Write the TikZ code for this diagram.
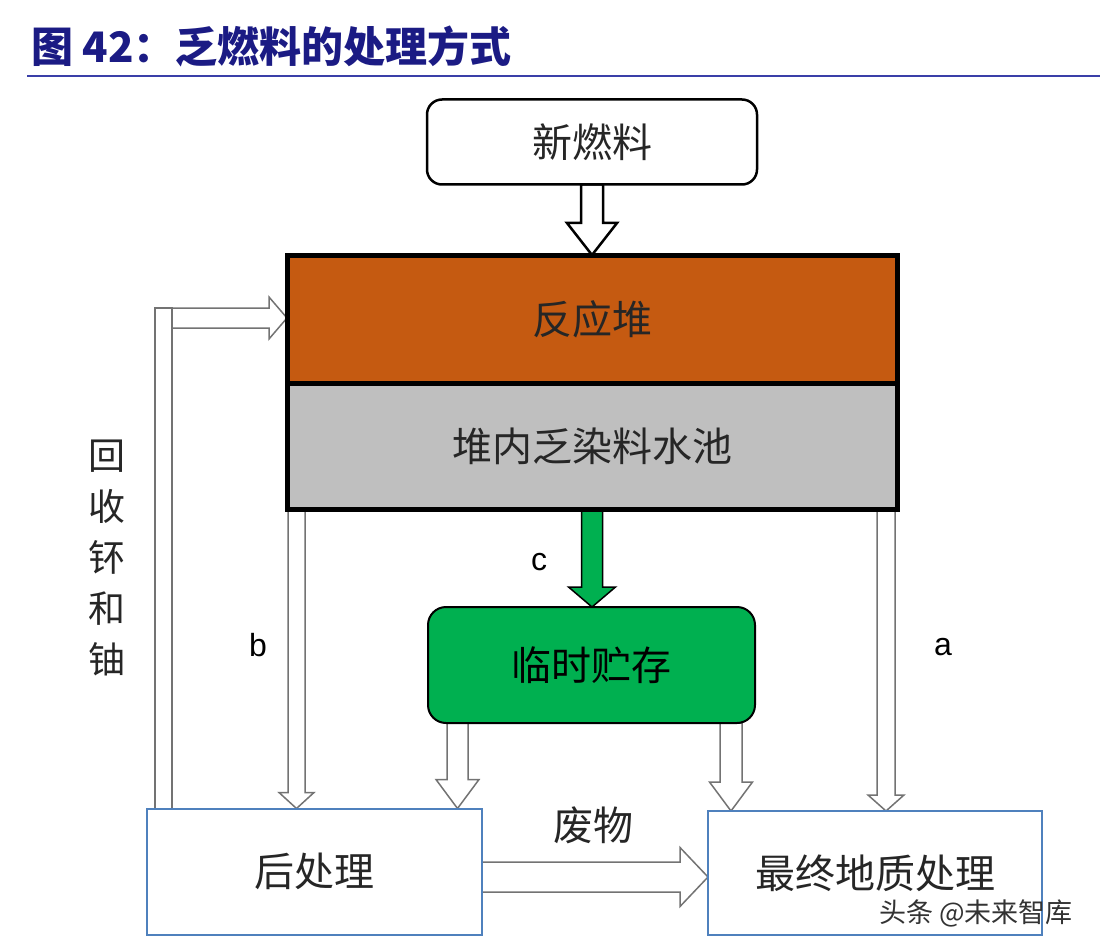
\documentclass[tikz,border=0pt]{standalone}
\usepackage{fontspec}
\newfontfamily\cjk{Noto Sans CJK SC}
\newfontfamily\lat{Liberation Sans}
\usetikzlibrary{calc,backgrounds}

\definecolor{reactorc}{HTML}{C55A11}
\definecolor{poolc}{HTML}{BFBFBF}
\definecolor{storec}{HTML}{00B050}
\definecolor{boxline}{HTML}{4F81BD}
\definecolor{titlec}{HTML}{1B1B84}
\definecolor{rulec}{HTML}{3A3FA8}

\tikzset{
    every node/.style={font=\cjk\fontsize{40}{44}\selectfont, text=black!85, inner sep=0pt, outer sep=0pt},
    corebox/.style={draw=black, line width=5pt, minimum width=610pt},
    roundbox/.style={draw=black, rounded corners=15pt, minimum width=330pt},
    endbox/.style={draw=boxline, line width=2pt, fill=white, minimum width=335pt, minimum height=126pt},
    hollow/.style={draw=black!55, line width=1.5pt, fill=white},
    letter/.style={font=\lat\fontsize{32}{34}\selectfont, text=black},
}

% #2 start, #3 tip, #4 half shaft, #5 half head, #6 head length
\newcommand{\fatdown}[6][]{%
    \filldraw[#1] let \p1=(#2), \p2=(#3) in
        (\x1-#4pt,\y1) -- (\x1+#4pt,\y1) -- (\x1+#4pt,\y2+#6pt) -- (\x1+#5pt,\y2+#6pt)
        -- (\x1,\y2) -- (\x1-#5pt,\y2+#6pt) -- (\x1-#4pt,\y2+#6pt) -- cycle;}
\newcommand{\fatright}[6][]{%
    \filldraw[#1] let \p1=(#2), \p2=(#3) in
        (\x1,\y1+#4pt) -- (\x2-#6pt,\y1+#4pt) -- (\x2-#6pt,\y1+#5pt) -- (\x2,\y1)
        -- (\x2-#6pt,\y1-#5pt) -- (\x2-#6pt,\y1-#4pt) -- (\x1,\y1-#4pt) -- cycle;}

\begin{document}
\begin{tikzpicture}[x=1pt, y=-1pt]
    \useasboundingbox (0,0) rectangle (1100,952);

    \node[anchor=west, text=titlec, font=\cjk\bfseries\fontsize{42}{44}\selectfont] (title) at (31,47) {图 42：乏燃料的处理方式};
    \draw[rulec, line width=2pt] (27,76) -- (1100,76);

    \node[roundbox, line width=2.5pt, fill=white, minimum height=85pt] (fuel) at (592,142) {新燃料};
    \node[corebox, fill=reactorc, minimum height=128pt] (reactor) at (592,319) {反应堆};
    \node[corebox, fill=poolc, minimum height=126pt] (pool) at (592,446) {堆内乏染料水池};
    \node[roundbox, line width=2pt, fill=storec, minimum width=327pt, minimum height=116pt,
          rounded corners=18pt, text=black] (store) at (591.5,665) {临时贮存};
    \node[endbox] (post) at (314.5,871.5) {后处理};
    \node[endbox, minimum width=334pt, minimum height=124pt] (final) at (875,873) {最终地质处理};

    \node[align=center, font=\cjk\fontsize{37}{51}\selectfont] (recycle) at (107,558) {回\\收\\钚\\和\\铀};
    \node[letter] (lb) at (258,645) {b};
    \node[letter] (lc) at (539,562) {c};
    \node[letter] (la) at (943,647) {a};
    \node (waste) at (593,825) {废物};

    \begin{scope}[on background layer]
        \fatdown[draw=black, line width=2.5pt, fill=white]{592,0 |- fuel.south}{592,0 |- reactor.north}{11}{25}{32}
        \fatdown[draw=black, line width=1.5pt, fill=storec]{592,0 |- pool.south}{592,0 |- store.north}{10.5}{23.5}{20}
        \fatdown[hollow]{296.5,0 |- pool.south}{296.5,0 |- post.north}{8.5}{17.5}{16}
        \fatdown[hollow]{886,0 |- pool.south}{886,0 |- final.north}{9}{18}{16}
        \fatdown[hollow]{457.5,0 |- store.south}{457.5,0 |- post.north}{10.5}{21.5}{29}
        \fatdown[hollow]{731,0 |- store.south}{731,0 |- final.north}{11}{21.5}{29}
        \fatright[hollow]{post.east |- 0,877}{final.west |- 0,877}{15}{29.5}{28}
        \draw[hollow] (155,308) rectangle (172,0 |- post.north);
        \fatright[hollow]{172,318}{reactor.west |- 0,318}{10}{21}{18}
    \end{scope}

    \node[font=\cjk\fontsize{27}{30}\selectfont, text=black!80] (mark) at (976,913) {头条 @未来智库};
\end{tikzpicture}
\end{document}
